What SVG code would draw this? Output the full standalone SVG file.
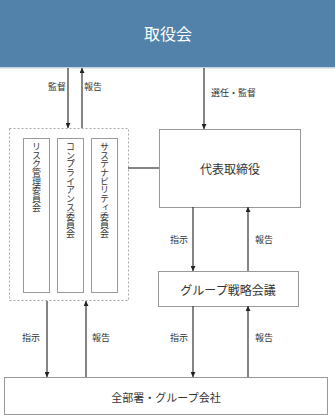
<svg xmlns="http://www.w3.org/2000/svg" width="335" height="415" viewBox="0 0 335 415">
<style>
text{font-family:"Noto Sans CJK JP","Noto Sans CJK SC",sans-serif;fill:#333;}
.box{fill:#fff;stroke:#999;stroke-width:1;}
.lbl{font-size:9px;}
.main{font-size:12px;text-anchor:middle;dominant-baseline:central;}
.vt{font-size:9px;writing-mode:vertical-rl;dominant-baseline:central;}
.arr{stroke:#333;stroke-width:1.2;fill:none;marker-end:url(#ah);}
</style>
<defs>
<marker id="ah" viewBox="0 0 10 10" refX="10" refY="5" markerWidth="5" markerHeight="5" orient="auto" markerUnits="userSpaceOnUse">
<path d="M0,0 L10,5 L0,10 z" fill="#222"/>
</marker>
</defs>
<rect width="335" height="415" fill="#fff"/>
<g id="board">
<rect x="0" y="0" width="335" height="68" fill="#5282a9"/>
<rect x="0" y="67" width="335" height="1.5" fill="#c6d4e2"/>
<text x="168" y="33" style="font-size:16px;fill:#fff;text-anchor:middle;dominant-baseline:central;">取役会</text>
</g>
<g id="committees">
<rect x="9.5" y="128.5" width="119" height="172" fill="none" stroke="#aaa" stroke-dasharray="2,2"/>
<rect class="box" x="23.5" y="138.5" width="26" height="154"/>
<rect class="box" x="57.5" y="138.5" width="26" height="154"/>
<rect class="box" x="91.5" y="138.5" width="26" height="154"/>
<text class="vt" x="36.5" y="142 150.7 159.4 168.1 176.8 185.5 194.2 202.9">リスク管理委員会</text>
<text class="vt" x="70.5" y="142 150.7 159.4 168.1 176.8 185.5 194.2 202.9 211.6 220.3 229">コンプライアンス委員会</text>
<text class="vt" x="104.5" y="142 150.7 159.4 168.1 176.8 185.5 194.2 202.9 211.6 220.3 229">サステナビリティ委員会</text>
</g>
<g id="ceo">
<rect class="box" x="159.5" y="129.5" width="141" height="78"/>
<text class="main" x="230" y="168">代表取締役</text>
</g>
<g id="strategy">
<rect class="box" x="158.5" y="271.5" width="140" height="35"/>
<text class="main" x="228" y="289">グループ戦略会議</text>
</g>
<g id="all">
<rect class="box" x="4.5" y="377.5" width="323" height="37"/>
<text class="main" x="166" y="397" style="font-size:11px;">全部署・グループ会社</text>
</g>
<g id="connectors">
<path class="arr" d="M68,68 V128"/>
<path class="arr" d="M82,128 V68"/>
<path class="arr" d="M204,68 V129"/>
<line x1="128" y1="168" x2="159" y2="168" stroke="#333" stroke-width="1.2"/>
<path class="arr" d="M193,207 V271"/>
<path class="arr" d="M248,271 V207"/>
<path class="arr" d="M47,301 V377"/>
<path class="arr" d="M86,377 V301"/>
<path class="arr" d="M193,306 V377"/>
<path class="arr" d="M248,377 V306"/>
<text class="lbl" x="66" y="90" text-anchor="end">監督</text>
<text class="lbl" x="84" y="90">報告</text>
<text class="lbl" x="211" y="96">選任・監督</text>
<text class="lbl" x="188" y="243" text-anchor="end">指示</text>
<text class="lbl" x="255" y="243">報告</text>
<text class="lbl" x="40" y="341" text-anchor="end">指示</text>
<text class="lbl" x="92" y="341">報告</text>
<text class="lbl" x="188" y="341" text-anchor="end">指示</text>
<text class="lbl" x="255" y="341">報告</text>
</g>
</svg>
